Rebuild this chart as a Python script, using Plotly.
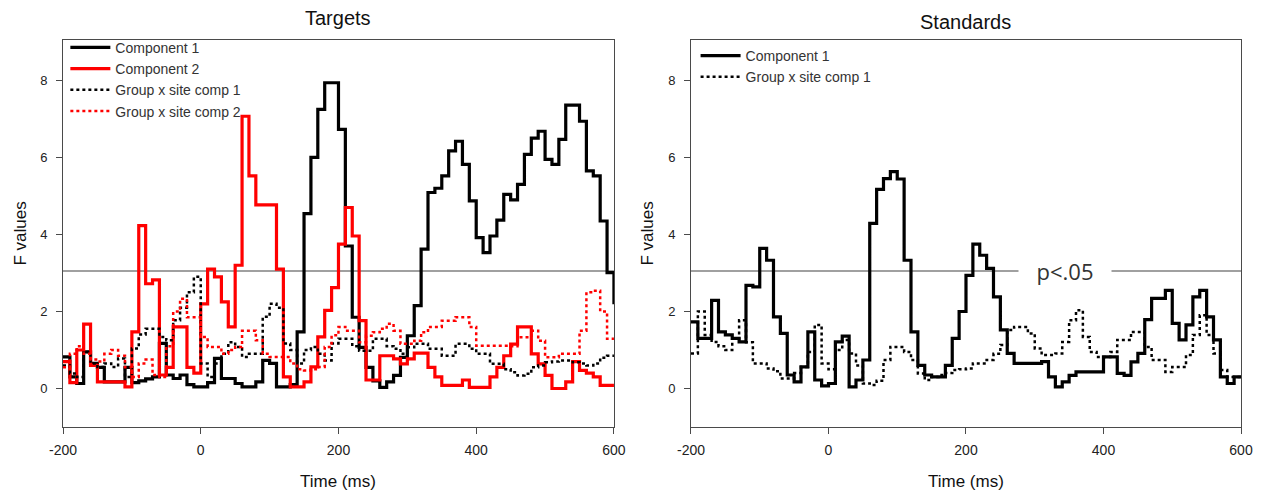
import numpy as np
import plotly.graph_objects as go

# time axis (10 ms bins, step start times plus final edge at 600 ms)
time_ms = list(range(-200, 601, 10))

# Targets panel
tgt_comp1 = [0.82, 0.3, 0.13, 0.95, 0.65, 0.55, 0.17, 0.17, 0.17, 0.55,
             0.15, 0.2, 0.25, 0.3, 1.17, 0.35, 0.26, 0.35, 0.1, 0.04,
             0.04, 0.15, 0.78, 0.26, 0.26, 0.13, 0.04, 0.04, 0.17, 0.73,
             0.65, 0.04, 0.04, 0.1, 1.47, 4.54, 6.0, 7.25, 7.94, 7.94,
             6.73, 3.7, 1.85, 1.07, 0.55, 0.2, 0.03, 0.17, 0.34, 0.81,
             1.37, 2.15, 3.62, 5.09, 5.2, 5.52, 6.17, 6.42, 5.82, 4.87,
             3.92, 3.53, 3.96, 4.37, 5.04, 4.9, 5.3, 6.08, 6.5, 6.68,
             5.95, 5.82, 6.47, 7.36, 7.36, 6.94, 5.65, 5.52, 4.35, 3.01,
             2.19]
tgt_comp2 = [0.7, 0.15, 1.0, 1.67, 0.6, 0.17, 0.17, 0.17, 0.17, 0.04,
             1.47, 4.23, 2.72, 2.82, 0.35, 0.55, 1.6, 1.6, 0.55, 0.4,
             2.2, 3.1, 2.9, 2.25, 1.6, 3.2, 7.07, 5.52, 4.77, 4.77,
             4.77, 3.1, 0.3, 0.04, 0.04, 0.17, 0.56, 1.34, 2.03, 2.62,
             3.75, 4.7, 3.96, 1.76, 0.22, 0.22, 0.85, 0.85, 0.77, 0.64,
             0.77, 0.92, 0.92, 0.55, 0.3, 0.08, 0.08, 0.08, 0.22, 0.03,
             0.03, 0.03, 0.3, 0.55, 0.85, 1.15, 1.6, 1.6, 0.9, 0.64,
             0.34, 0.0, 0.0, 0.17, 0.7, 0.47, 0.4, 0.3, 0.08, 0.08,
             0.08]
tgt_gxs1 = [0.6, 0.39, 0.3, 0.95, 0.65, 0.56, 0.65, 0.56, 0.78, 0.3,
            1.04, 1.4, 1.55, 1.55, 1.34, 1.25, 1.77, 2.1, 2.5, 2.9,
            0.65, 0.3, 0.65, 0.9, 1.2, 1.08, 0.82, 0.9, 0.9, 1.86,
            2.2, 2.1, 1.17, 1.0, 0.65, 1.0, 1.08, 0.9, 0.73, 1.17,
            1.29, 1.29, 1.1, 0.98, 0.98, 1.29, 1.29, 1.1, 1.03, 0.9,
            1.07, 1.16, 1.16, 1.03, 1.03, 0.85, 0.85, 1.16, 1.16, 1.03,
            0.9, 0.9, 0.64, 0.64, 0.5, 0.42, 0.34, 0.38, 0.55, 0.6,
            0.68, 0.7, 0.73, 0.73, 0.68, 0.65, 0.6, 0.65, 0.8, 0.85,
            0.85]
tgt_gxs2 = [0.55, 0.9, 1.1, 0.9, 0.75, 0.7, 0.9, 1.0, 0.85, 0.55,
            0.3, 0.65, 0.75, 0.35, 0.3, 1.1, 2.0, 2.33, 1.85, 1.85,
            1.34, 1.08, 1.08, 0.9, 1.0, 1.08, 1.5, 1.5, 1.25, 0.9,
            0.82, 0.82, 0.82, 0.65, 0.5, 0.47, 0.5, 0.56, 1.08, 1.38,
            1.6, 1.5, 1.5, 1.2, 1.37, 1.46, 1.55, 1.68, 1.5, 1.16,
            1.16, 1.24, 1.46, 1.6, 1.6, 1.76, 1.76, 1.85, 1.85, 1.6,
            1.11, 1.11, 1.11, 1.11, 1.11, 1.1, 1.33, 1.33, 1.5, 1.24,
            0.81, 0.81, 0.9, 0.9, 0.9, 1.5, 2.5, 2.54, 2.0, 1.29,
            1.29]

# Standards panel
std_comp1 = [1.73, 1.3, 1.3, 2.29, 1.47, 1.39, 1.3, 1.21, 2.68, 2.64,
             3.64, 3.33, 1.86, 1.43, 0.35, 0.17, 0.56, 1.47, 0.22, 0.07,
             0.13, 1.21, 1.36, 0.04, 0.22, 0.74, 4.29, 5.17, 5.45, 5.63,
             5.44, 3.33, 1.47, 0.6, 0.35, 0.3, 0.3, 0.6, 1.3, 2.0,
             2.94, 3.75, 3.46, 3.12, 2.38, 1.52, 0.91, 0.65, 0.65, 0.65,
             0.65, 0.7, 0.3, 0.04, 0.17, 0.34, 0.43, 0.43, 0.43, 0.43,
             0.82, 0.82, 0.39, 0.34, 0.69, 0.91, 1.79, 2.34, 2.34, 2.55,
             1.69, 1.26, 1.65, 2.38, 2.55, 1.86, 1.26, 0.3, 0.13, 0.3,
             0.3]
std_gxs1 = [0.91, 2.0, 1.39, 1.21, 1.1, 1.0, 1.3, 1.77, 1.2, 0.65,
            0.65, 0.52, 0.45, 0.26, 0.26, 0.4, 0.56, 0.95, 1.65, 0.65,
            0.5, 1.0, 1.26, 0.91, 0.6, 0.13, 0.09, 0.2, 0.74, 1.08,
            1.08, 0.95, 0.74, 0.39, 0.22, 0.3, 0.35, 0.4, 0.48, 0.5,
            0.52, 0.65, 0.65, 0.74, 0.9, 1.13, 1.52, 1.6, 1.6, 1.43,
            1.04, 0.87, 0.87, 0.91, 1.21, 1.77, 2.03, 1.34, 0.95, 0.82,
            0.82, 0.95, 1.26, 1.26, 1.47, 1.47, 1.08, 0.74, 0.74, 0.43,
            0.56, 0.56, 0.87, 1.39, 1.9, 1.39, 0.91, 0.48, 0.3, 0.3,
            0.3]

threshold = 3.05
x_ticks = [-200, 0, 200, 400, 600]
x_ticktext = ["-200", "0", "200", "400", "600"]
y_ticks = [0, 2, 4, 6, 8]

FONT = "Liberation Sans, Arial, sans-serif"
BLACK = "#000000"
RED = "#ff0000"

fig = go.Figure()

def add(x, y, name, color, dash, width, xa, ya, legend):
    fig.add_trace(go.Scatter(
        x=x, y=y, name=name, mode="lines", line_shape="hv",
        line=dict(color=color, dash=dash, width=width),
        xaxis=xa, yaxis=ya, legend=legend))

add(time_ms, tgt_comp1, "Component 1", BLACK, "solid", 3.2, "x", "y", "legend")
add(time_ms, tgt_comp2, "Component 2", RED, "solid", 3.2, "x", "y", "legend")
add(time_ms, tgt_gxs1, "Group x site comp 1", BLACK, "dot", 2.5, "x", "y", "legend")
add(time_ms, tgt_gxs2, "Group x site comp 2", RED, "dot", 2.5, "x", "y", "legend")
add(time_ms, std_comp1, "Component 1", BLACK, "solid", 3.2, "x2", "y2", "legend2")
add(time_ms, std_gxs1, "Group x site comp 1", BLACK, "dot", 2.5, "x2", "y2", "legend2")

# threshold lines
for xr, yr in (("x", "y"), ("x2", "y2")):
    fig.add_shape(type="line", xref=xr, yref=yr, x0=-200, x1=600, y0=threshold, y1=threshold,
                  line=dict(color="#808080", width=1.6), layer="below")

LINE = "#4a4a4a"
xaxis_common = dict(showgrid=False, zeroline=False, showline=True, linecolor=LINE,
                    linewidth=1, mirror=True, ticks="outside", ticklen=6, tickcolor=LINE,
                    range=[-200, 600], tickvals=x_ticks, ticktext=x_ticktext,
                    ticklabelstandoff=4, automargin=False,
                    tickfont=dict(family=FONT, size=14, color="#222222"))
yaxis_common = dict(showgrid=False, zeroline=False, showline=True, linecolor=LINE,
                    linewidth=1, mirror=True, ticks="outside", ticklen=6, tickcolor=LINE,
                    range=[-1, 9.05], tickvals=y_ticks, ticklabelstandoff=6, automargin=False,
                    tickfont=dict(family=FONT, size=13, color="#222222"))
legend_font = dict(family=FONT, size=14, color="#333333")

fig.update_layout(
    width=1248, height=482,
    margin=dict(l=55, r=15, t=32, b=63, autoexpand=False),
    plot_bgcolor="white", paper_bgcolor="white",
    xaxis=dict(domain=[0, 0.4677], anchor="y", **xaxis_common),
    yaxis=dict(anchor="x", **yaxis_common),
    xaxis2=dict(domain=[0.5331, 1], anchor="y2", **xaxis_common),
    yaxis2=dict(anchor="x2", **yaxis_common),
    legend=dict(x=0.002, y=1.021, xanchor="left", yanchor="top", bgcolor="rgba(0,0,0,0)",
                font=legend_font, tracegroupgap=0, itemwidth=40),
    legend2=dict(x=0.537, y=1.0, xanchor="left", yanchor="top", bgcolor="rgba(0,0,0,0)",
                 font=legend_font, tracegroupgap=0, itemwidth=40),
    showlegend=True,
)

title_font = dict(family=FONT, size=20, color="#111111")
label_font = dict(family=FONT, size=17, color="#111111")
annots = [
    dict(text="Targets", x=0.2338, y=1.057, xref="paper", yref="paper", showarrow=False,
         font=title_font, xanchor="center", yanchor="middle"),
    dict(text="Standards", x=0.7665, y=1.046, xref="paper", yref="paper", showarrow=False,
         font=title_font, xanchor="center", yanchor="middle"),
    dict(text="Time (ms)", x=0.2338, y=-0.142, xref="paper", yref="paper", showarrow=False,
         font=label_font, xanchor="center", yanchor="middle"),
    dict(text="Time (ms)", x=0.7665, y=-0.142, xref="paper", yref="paper", showarrow=False,
         font=label_font, xanchor="center", yanchor="middle"),
    dict(text="F values", x=-0.0365, y=0.5, xref="paper", yref="paper", showarrow=False, textangle=-90,
         font=label_font, xanchor="center", yanchor="middle"),
    dict(text="F values", x=0.4966, y=0.5, xref="paper", yref="paper", showarrow=False, textangle=-90,
         font=label_font, xanchor="center", yanchor="middle"),
    dict(text="p<.05", x=344, y=threshold, xref="x2", yref="y2", showarrow=False,
         font=dict(family="Open Sans, sans-serif", size=22, color="#333333"),
         bgcolor="white", width=90, xanchor="center", yanchor="middle"),
]
fig.update_layout(annotations=annots)

fig.write_html("out.html")
